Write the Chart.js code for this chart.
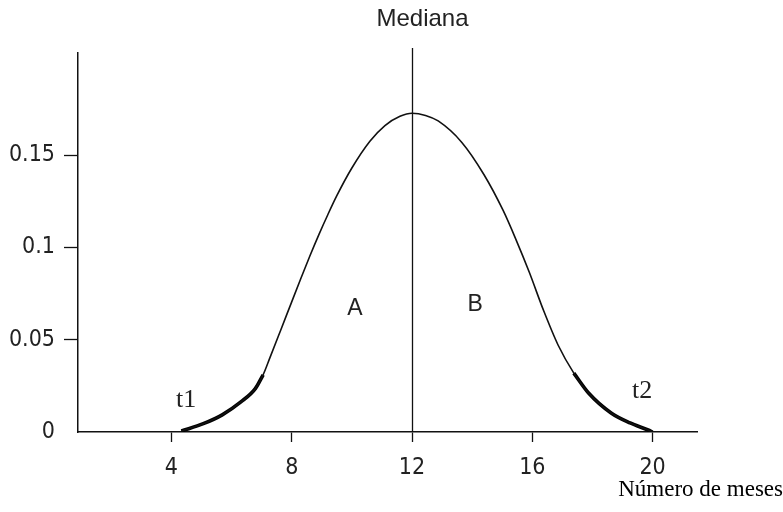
<!DOCTYPE html>
<html>
<head>
<meta charset="utf-8">
<script src="https://cdn.jsdelivr.net/npm/chart.js@4/dist/chart.umd.min.js"></script>
<style>
  html, body { margin: 0; padding: 0; background: #fff; }
  #wrap { width: 783px; height: 512px; }
</style>
</head>
<body>
<div id="wrap"><canvas id="c" width="783" height="512"></canvas></div>
<script>
// Months (x) and density (y) of the bell-shaped curve
const curveX = [4.33, 5.06, 5.69, 6.31, 6.79, 7.05, 7.27, 7.63, 8.0, 8.30, 8.60, 8.90, 9.20, 9.50, 10.0, 10.6, 11.1, 11.6, 12.0,
                12.45, 12.87, 13.65, 14.39, 15.03, 15.45, 15.90, 16.37, 16.86, 17.38, 17.87, 18.62, 19.25, 19.85, 20.0];
const curveY = [0.0005, 0.0045, 0.0093, 0.0163, 0.0235, 0.0310, 0.0400, 0.0550, 0.0705, 0.0830, 0.0952, 0.1068, 0.1177, 0.1280, 0.1430, 0.1575, 0.1660, 0.1710, 0.1727,
                0.1715, 0.1685, 0.1570, 0.1395, 0.1200, 0.1045, 0.0865, 0.0660, 0.0470, 0.0319, 0.0211, 0.0103, 0.0049, 0.0011, 0.0];

// Tails t1 / t2 are drawn heavier
const t1End = 7.05;
const t2Start = 17.38;

const median = 12;
const xTicks = [4, 8, 12, 16, 20];
const yTicks = [0, 0.05, 0.1, 0.15];
const yTickLabels = ['0', '0.05', '0.1', '0.15'];

// Text annotations placed in data coordinates
const notes = [
  { text: 'A',  x: 10.1,  y: 0.067, font: '23px "Liberation Sans", Arial, sans-serif' },
  { text: 'B',  x: 14.1,  y: 0.069, font: '23px "Liberation Sans", Arial, sans-serif' },
  { text: 't1', x: 4.49,  y: 0.017, font: '26px "Liberation Serif", "Times New Roman", serif' },
  { text: 't2', x: 19.65, y: 0.022, font: '26px "Liberation Serif", "Times New Roman", serif' }
];

const points = curveX.map((x, i) => ({ x, y: curveY[i] }));
const leftTail = points.filter(p => p.x <= t1End);
const rightTail = points.filter(p => p.x >= t2Start);

const tickFont = { family: '"Liberation Sans Narrow", "DejaVu Sans Condensed", "Liberation Sans", sans-serif', size: 23 };

const extras = {
  id: 'extras',
  afterDatasetsDraw(chart) {
    const { ctx, scales: { x, y }, chartArea } = chart;
    ctx.save();
    // median line
    const mx = Math.round(x.getPixelForValue(median)) + 0.5;
    ctx.strokeStyle = '#111';
    ctx.lineWidth = 1.3;
    ctx.beginPath();
    ctx.moveTo(mx, chartArea.top - 5);
    ctx.lineTo(mx, chartArea.bottom);
    ctx.stroke();

    ctx.fillStyle = '#222';
    ctx.textAlign = 'center';
    ctx.textBaseline = 'middle';
    ctx.font = '24px "Liberation Sans", Arial, sans-serif';
    ctx.fillText('Mediana', mx + 10, 19);

    notes.forEach(n => {
      ctx.font = n.font;
      ctx.fillText(n.text, x.getPixelForValue(n.x), y.getPixelForValue(n.y));
    });

    ctx.fillStyle = '#000';
    ctx.textAlign = 'right';
    ctx.textBaseline = 'alphabetic';
    ctx.font = '23px "Liberation Serif", "Times New Roman", serif';
    ctx.fillText('Número de meses', chart.width, 496);
    ctx.restore();
  }
};

new Chart(document.getElementById('c'), {
  type: 'line',
  data: {
    datasets: [
      { data: points, borderColor: '#111', borderWidth: 1.6, pointRadius: 0, cubicInterpolationMode: 'monotone', fill: false },
      { data: leftTail, borderColor: '#000', borderWidth: 3.6, pointRadius: 0, cubicInterpolationMode: 'monotone', fill: false },
      { data: rightTail, borderColor: '#000', borderWidth: 3.6, pointRadius: 0, cubicInterpolationMode: 'monotone', fill: false }
    ]
  },
  options: {
    responsive: false,
    animation: false,
    layout: { padding: { top: 53, right: 86, left: 0, bottom: 0 } },
    plugins: { legend: { display: false }, tooltip: { enabled: false } },
    scales: {
      x: {
        type: 'linear',
        min: 0.894,
        max: 21.476,
        afterBuildTicks: s => { s.ticks = xTicks.map(v => ({ value: v })); },
        afterFit: s => { s.height = 80; },
        grid: { drawOnChartArea: false, drawTicks: true, tickLength: 10, tickColor: '#111', tickWidth: 1.3 },
        border: { display: true, color: '#111', width: 1.5 },
        ticks: { color: '#222', font: tickFont, padding: 12, maxRotation: 0, autoSkip: false,
                 callback: v => String(v) }
      },
      y: {
        type: 'linear',
        min: 0,
        max: 0.2053,
        afterBuildTicks: s => { s.ticks = yTicks.map(v => ({ value: v })); },
        afterFit: s => { s.width = 78; },
        grid: { drawOnChartArea: false, drawTicks: true, tickLength: 14, tickWidth: 1.3,
                tickColor: c => (c.tick && c.tick.value === 0) ? 'rgba(0,0,0,0)' : '#111' },
        border: { display: true, color: '#111', width: 1.5 },
        ticks: { color: '#222', font: tickFont, padding: 9, autoSkip: false,
                 callback: v => yTickLabels[yTicks.indexOf(v)] }
      }
    }
  },
  plugins: [extras]
});
</script>
</body>
</html>
